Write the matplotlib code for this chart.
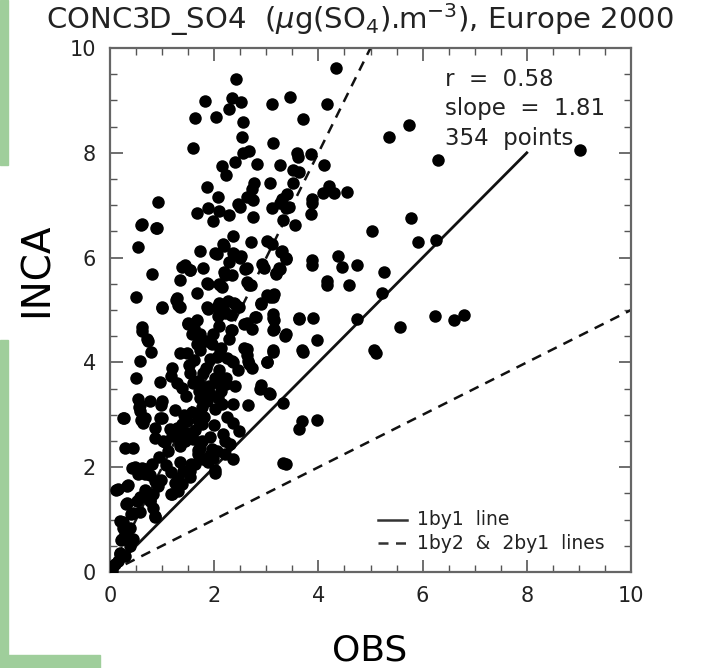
import matplotlib
matplotlib.use('Agg')
import matplotlib.pyplot as plt
from matplotlib.patches import Rectangle
from matplotlib.ticker import MultipleLocator

obs = [
    4.33, 2.42, 3.46, 1.83, 2.35, 2.52, 3.11, 4.17, 2.29, 1.63, 2.04, 3.71, 2.56, 2.54, 5.35,
    5.73, 6.29, 9.02, 3.13, 1.60, 2.56, 2.67, 3.58, 3.60, 3.85, 2.40, 2.83, 2.15, 3.27, 4.10,
    2.23, 3.52, 3.62, 2.77, 3.08, 3.52, 1.87, 2.73, 4.21, 4.29, 4.08, 4.54, 2.08, 2.63, 2.75,
    3.40, 3.31, 3.27, 3.88, 0.92, 3.88, 2.46, 2.50, 3.10, 3.37, 3.44, 1.88, 1.67, 2.10, 2.29,
    2.75, 3.85, 3.33, 3.56, 1.98, 0.62, 0.90, 5.02, 5.77, 5.92, 6.25, 0.54, 1.73, 2.02, 2.37,
    2.17, 2.71, 3.02, 3.10, 3.31, 3.37, 2.37, 2.50, 3.87, 3.88, 4.37, 4.46, 4.75, 5.25, 5.23,
    0.81, 1.38, 1.54, 1.79, 1.35, 1.67, 1.87, 2.12, 2.21, 2.35, 2.60, 2.67, 2.96, 3.19, 3.27,
    4.17, 4.17, 4.58, 0.50, 1.00, 1.29, 1.35, 1.87, 2.06, 2.08, 2.21, 2.27, 2.40, 2.48, 2.79,
    2.90, 3.08, 3.13, 3.12, 3.13, 3.62, 3.90, 4.75, 6.23, 6.60, 6.79, 5.56, 0.62, 0.62, 1.50,
    1.67, 1.58, 1.73, 1.98, 2.35, 2.58, 2.73, 3.13, 3.37, 0.71, 3.98, 0.73, 0.79, 1.35, 1.48,
    1.67, 1.73, 2.12, 2.25, 1.92, 2.37, 2.63, 2.65, 2.73, 3.02, 3.12, 3.71, 5.06, 5.10, 0.58,
    0.50, 0.96, 1.19, 1.17, 1.29, 1.38, 1.54, 1.60, 1.69, 1.79, 1.79, 2.02, 1.92, 2.12, 2.21,
    1.73, 1.77, 1.73, 1.87, 2.08, 2.37, 2.65, 2.88, 3.08, 3.33, 0.56, 0.27, 0.54, 0.77, 1.00,
    0.58, 0.67, 0.63, 0.87, 1.00, 0.87, 1.02, 1.19, 1.29, 1.31, 1.38, 1.48, 1.35, 1.44, 1.60,
    1.73, 1.77, 1.63, 1.77, 2.02, 2.17, 2.37, 2.21, 2.31, 2.06, 1.98, 1.92, 1.79, 1.69, 1.63,
    1.54, 1.40, 1.31, 1.25, 1.31, 1.19, 1.38, 0.81, 0.62, 0.54, 0.67, 0.29, 0.44, 0.42, 0.87,
    0.92, 0.83, 0.77, 0.83, 0.87, 0.15, 0.33, 0.33, 0.52, 0.44, 0.19, 0.25, 0.38, 0.29, 0.23,
    0.44, 0.38, 0.19, 0.29, 0.15, 0.06, 0.04, 2.02, 2.37, 3.33, 3.37, 3.62, 3.69, 3.98, 2.19,
    2.06, 2.38, 2.52, 3.29, 3.38, 2.29, 2.62, 2.92, 3.25, 3.19, 2.19, 2.10, 2.15, 2.63, 2.71,
    3.02, 3.15, 2.10, 2.38, 2.90, 2.19, 2.81, 3.15, 3.63, 2.62, 2.33, 3.15, 3.35, 2.13, 2.58,
    2.63, 3.12, 3.69, 2.35, 2.67, 3.02, 2.10, 2.23, 2.23, 2.90, 3.06, 2.13, 0.25, 0.12, 0.35,
    0.31, 0.25, 0.40, 0.58, 0.87, 0.21, 0.19, 0.10, 0.58, 0.60, 0.96, 0.98, 1.15, 1.06, 1.40,
    1.35, 1.69, 1.83, 1.56, 1.35, 1.17, 0.67, 0.48, 0.98, 0.77, 1.31, 1.54, 1.17, 0.67, 0.58,
    0.77, 1.69, 1.92, 1.88, 2.02, 1.44, 1.54, 1.27, 1.31, 1.00, 1.88, 1.88, 1.50, 0.60, 0.88,
    1.52, 1.62, 1.85, 1.95, 2.05, 2.28, 2.45, 1.45, 1.70, 1.90, 2.15, 2.40, 1.58, 1.80, 2.00,
    2.25, 2.48, 1.50, 1.72, 1.95, 2.20, 1.62, 1.85, 2.10, 2.32, 1.25, 1.42, 1.12, 0.95, 1.08,
]
inca = [
    9.62, 9.41, 9.06, 8.99, 9.04, 8.97, 8.93, 8.93, 8.83, 8.66, 8.68, 8.64, 8.58, 8.30, 8.30,
    8.53, 7.86, 8.05, 8.18, 8.09, 7.99, 8.03, 7.99, 7.92, 7.97, 7.82, 7.78, 7.74, 7.76, 7.76,
    7.57, 7.67, 7.63, 7.42, 7.42, 7.42, 7.34, 7.30, 7.36, 7.23, 7.23, 7.25, 7.15, 7.15, 7.09,
    7.21, 7.11, 7.04, 7.11, 7.06, 7.04, 7.02, 6.96, 6.94, 6.94, 6.96, 6.94, 6.86, 6.88, 6.81,
    6.77, 6.83, 6.71, 6.62, 6.69, 6.65, 6.56, 6.50, 6.75, 6.29, 6.33, 6.20, 6.12, 6.08, 6.42,
    6.25, 6.29, 6.31, 6.25, 6.12, 6.00, 6.08, 6.00, 5.95, 5.85, 6.04, 5.83, 5.85, 5.72, 5.32,
    5.68, 5.83, 5.77, 5.81, 5.58, 5.33, 5.51, 5.47, 5.66, 5.66, 5.79, 5.47, 5.81, 5.70, 5.79,
    5.56, 5.47, 5.47, 5.24, 5.05, 5.22, 5.05, 5.05, 5.05, 4.89, 4.95, 5.18, 5.12, 5.05, 4.86,
    5.12, 5.24, 5.24, 4.93, 4.84, 4.84, 4.84, 4.82, 4.88, 4.80, 4.90, 4.67, 4.68, 4.59, 4.74,
    4.80, 4.55, 4.55, 4.55, 4.61, 4.74, 4.63, 4.61, 4.55, 4.44, 4.42, 4.40, 4.19, 4.17, 4.17,
    4.36, 4.23, 4.23, 4.09, 4.07, 4.00, 4.26, 4.03, 3.90, 4.00, 4.19, 4.19, 4.23, 4.17, 4.03,
    3.71, 3.63, 3.90, 3.75, 3.61, 3.52, 3.80, 3.61, 3.65, 3.79, 3.52, 3.71, 3.40, 3.56, 3.65,
    3.33, 3.14, 2.98, 3.27, 3.33, 3.21, 3.19, 3.50, 3.40, 3.23, 3.14, 2.93, 3.31, 3.27, 3.27,
    3.08, 2.94, 2.85, 2.75, 2.93, 2.56, 2.50, 2.60, 2.75, 2.64, 2.83, 2.88, 2.41, 2.50, 2.54,
    2.37, 2.50, 2.71, 2.83, 3.12, 2.64, 2.85, 2.50, 2.45, 2.31, 2.18, 2.24, 2.16, 2.25, 2.06,
    1.93, 1.93, 1.80, 1.70, 1.55, 1.49, 1.68, 2.06, 1.99, 1.87, 1.87, 2.37, 2.37, 1.99, 1.74,
    1.64, 1.49, 1.36, 1.23, 1.07, 1.59, 1.64, 1.32, 1.36, 1.13, 0.98, 0.84, 0.84, 0.73, 0.63,
    0.63, 0.50, 0.36, 0.31, 0.21, 0.11, 0.02, 1.89, 2.16, 2.08, 2.06, 2.73, 2.89, 2.91, 6.23,
    6.06, 6.06, 6.04, 6.10, 5.97, 5.91, 5.81, 5.87, 5.81, 5.68, 5.72, 5.49, 5.43, 5.53, 5.47,
    5.28, 5.30, 5.14, 5.14, 5.14, 4.99, 4.86, 4.80, 4.82, 4.76, 4.61, 4.63, 4.51, 4.28, 4.28,
    4.15, 4.23, 4.23, 4.03, 3.96, 4.00, 3.86, 3.71, 3.58, 3.56, 3.42, 3.46, 2.93, 1.57, 1.66,
    1.30, 0.96, 1.11, 1.15, 1.05, 0.61, 0.34, 0.15, 3.19, 2.91, 2.93, 3.19, 2.72, 2.49, 2.62,
    2.45, 2.33, 2.16, 2.06, 2.10, 1.91, 1.97, 2.01, 1.76, 1.85, 1.68, 1.82, 1.49, 1.57, 1.43,
    1.38, 2.91, 2.58, 2.10, 1.95, 5.85, 5.76, 5.20, 5.09, 5.03, 5.49, 5.01, 4.76, 6.63, 6.56,
    3.95, 4.05, 3.90, 4.35, 4.10, 4.45, 3.85, 3.35, 3.45, 3.55, 3.20, 3.55, 3.05, 2.95, 2.80,
    2.95, 2.70, 2.65, 2.45, 2.35, 2.25, 4.65, 4.40, 4.70, 4.90, 3.10, 3.00, 2.30, 2.20, 2.05,
]

stats = ['r  =  0.58', 'slope  =  1.81', '354  points']

fig = plt.figure(figsize=(7.09, 6.68), dpi=100)

# light green strips at the left edge of the page
green = '#9fce9b'
for x0, y0, w, h in [(0, 503, 8, 165), (0, 0, 8, 328), (0, 0, 100, 13)]:
    fig.patches.append(Rectangle((x0 / 709, y0 / 668), w / 709, h / 668,
                                 transform=fig.transFigure, color=green, zorder=0))

ax = fig.add_axes([110 / 709, 96 / 668, 521 / 709, 524 / 668])
ax.set_xlim(0, 10)
ax.set_ylim(0, 10)

ax.plot(obs, inca, 'o', color='black', markersize=9, markeredgewidth=0, zorder=3)

ax.plot([0, 8], [0, 8], '-', color='#111111', lw=2)
ax.plot([0, 5], [0, 10], '--', color='#111111', lw=1.8, dashes=(4, 3))
ax.plot([0, 10], [0, 5], '--', color='#111111', lw=1.8, dashes=(4, 3))

for i, s in enumerate(stats):
    ax.text(6.43, 9.4 - i * 0.56, s, fontsize=16.5, va='center', ha='left', color='#222222')

# legend drawn by hand
ax.plot([5.15, 5.7], [1.0, 1.0], '-', color='#333333', lw=1.8)
ax.plot([5.15, 5.7], [0.55, 0.55], '--', color='#333333', lw=1.8, dashes=(4, 3))
ax.text(5.9, 1.0, '1by1  line', fontsize=13.5, va='center', color='#222222')
ax.text(5.9, 0.55, '1by2  &  2by1  lines', fontsize=13.5, va='center', color='#222222')

ax.xaxis.set_major_locator(MultipleLocator(2))
ax.yaxis.set_major_locator(MultipleLocator(2))
ax.xaxis.set_minor_locator(MultipleLocator(0.5))
ax.yaxis.set_minor_locator(MultipleLocator(0.5))
ax.tick_params(which='both', direction='in', top=True, right=True, color='#555555')
ax.tick_params(which='major', length=9, width=1.2, labelsize=15, pad=10, labelcolor='#222222')
ax.tick_params(which='minor', length=5, width=1)
for sp in ax.spines.values():
    sp.set_color('#666666')
    sp.set_linewidth(1.6)

fig.text(0.508, 0.97, 'CONC3D_SO4  ($\\mu$g(SO$_4$).m$^{-3}$), Europe 2000',
         ha='center', va='center', fontsize=21, color='#222222')
fig.text(0.052, 0.596, 'INCA', rotation=90, ha='center', va='center', fontsize=28)
fig.text(0.522, 0.026, 'OBS', ha='center', va='center', fontsize=26)

fig.savefig('out.png', dpi=100)
